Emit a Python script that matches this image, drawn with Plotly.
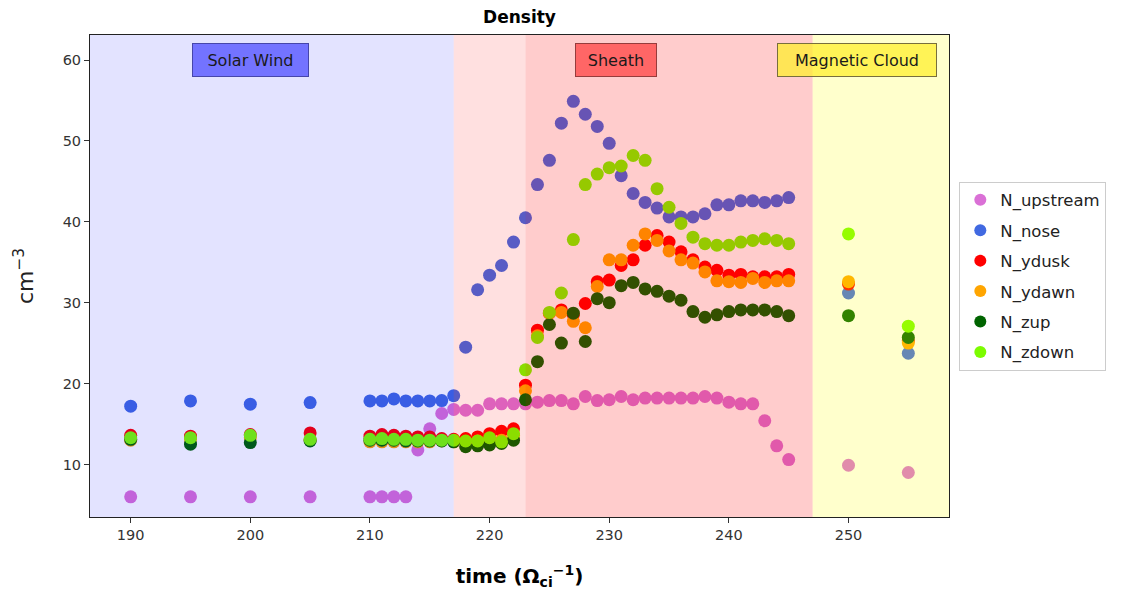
import plotly.graph_objects as go

time = [190, 195, 200, 205, 210, 211, 212, 213, 214, 215, 216, 217, 218, 219, 220,
        221, 222, 223, 224, 225, 226, 227, 228, 229, 230, 231, 232, 233, 234, 235,
        236, 237, 238, 239, 240, 241, 242, 243, 244, 245, 250, 255]

N_upstream = [6.0, 6.0, 6.0, 6.0, 6.0, 6.0, 6.0, 6.0, 11.8, 14.4, 16.3, 16.8, 16.7, 16.7, 17.5,
              17.5, 17.5, 17.5, 17.7, 17.9, 17.9, 17.5, 18.4, 17.9, 18.0, 18.4, 18.0, 18.2, 18.2, 18.2,
              18.2, 18.2, 18.4, 18.2, 17.7, 17.5, 17.5, 15.4, 12.3, 10.6, 9.9, 9.0]
N_nose = [17.2, 17.85, 17.45, 17.65, 17.85, 17.85, 18.1, 17.85, 17.85, 17.85, 17.9, 18.5, 24.5, 31.6, 33.4,
          34.6, 37.5, 40.5, 44.6, 47.6, 52.2, 54.9, 53.3, 51.8, 49.7, 45.7, 43.5, 42.4, 41.7, 40.6,
          40.6, 40.6, 41.0, 42.1, 42.1, 42.6, 42.6, 42.4, 42.6, 43.0, 31.2, 23.75]
N_ydusk = [13.6, 13.5, 13.7, 13.9, 13.5, 13.7, 13.6, 13.5, 13.4, 13.4, 13.2, 13.1, 13.2, 13.4, 13.8,
           14.1, 14.4, 19.8, 26.6, 28.7, 29.1, 28.5, 29.9, 32.6, 32.8, 34.6, 35.3, 37.1, 38.3, 37.5,
           36.3, 35.3, 34.4, 34.0, 33.4, 33.5, 33.2, 33.2, 33.2, 33.5, 32.3, 25.3]
N_ydawn = [13.0, 13.1, 13.3, 13.0, 12.8, 12.8, 12.8, 12.8, 12.8, 12.8, 12.9, 12.8, 12.8, 12.9, 13.0,
           13.0, 13.6, 19.1, 25.9, 28.7, 28.8, 27.7, 26.9, 32.0, 35.3, 35.3, 37.1, 38.5, 37.7, 36.4,
           35.3, 34.9, 33.8, 32.7, 32.6, 32.5, 33.0, 32.5, 32.7, 32.7, 32.6, 25.0]
N_zup = [13.1, 12.5, 12.7, 12.9, 13.0, 13.0, 13.0, 12.9, 12.9, 12.9, 12.9, 12.8, 12.2, 12.3, 12.4,
         12.6, 13.0, 18.0, 22.7, 27.3, 25.0, 28.7, 25.2, 30.5, 30.0, 32.1, 32.5, 31.7, 31.4, 30.8,
         30.3, 28.9, 28.2, 28.5, 28.9, 29.1, 29.1, 29.1, 28.9, 28.4, 28.4, 25.7]
N_zdown = [13.3, 13.3, 13.6, 13.1, 13.1, 13.2, 13.1, 13.1, 13.0, 13.0, 13.0, 13.0, 12.9, 12.9, 13.3,
           12.8, 13.8, 21.7, 25.7, 28.8, 31.2, 37.8, 44.6, 45.9, 46.7, 46.9, 48.2, 47.6, 44.1, 41.8,
           39.8, 38.1, 37.3, 37.1, 37.1, 37.5, 37.7, 37.9, 37.7, 37.3, 38.5, 27.1]

series_names = ["N_upstream", "N_nose", "N_ydusk", "N_ydawn", "N_zup", "N_zdown"]
series_values = [N_upstream, N_nose, N_ydusk, N_ydawn, N_zup, N_zdown]
series_colors = ["orchid", "royalblue", "red", "orange", "darkgreen", "lawngreen"]

region_bounds = [(186.6, 217), (217, 223), (223, 247), (247, 258.4)]
region_fills = ["rgba(0,0,255,0.11)", "rgba(255,0,0,0.12)", "rgba(255,0,0,0.2)", "rgba(255,255,0,0.2)"]

labels = ["Solar Wind", "Sheath", "Magnetic Cloud"]
label_x = [200, 230.6, 250.7]
label_w = [113, 78, 156]
label_bg = ["rgb(115,115,255)", "rgb(255,102,102)", "rgba(255,238,40,0.72)"]
label_border = ["rgb(70,70,170)", "rgb(150,60,60)", "rgb(120,110,60)"]

FONT = "DejaVu Sans"

fig = go.Figure()
for name, vals, col in zip(series_names, series_values, series_colors):
    fig.add_trace(go.Scatter(x=time, y=vals, mode="markers", name=name, legendgroup=name,
                             marker=dict(color=col, size=13, line=dict(width=0))))

for (x0, x1), fc in zip(region_bounds, region_fills):
    fig.add_shape(type="rect", xref="x", yref="paper", x0=x0, x1=x1, y0=0, y1=1,
                  fillcolor=fc, line=dict(width=0), layer="above")

for txt, lx, w, bg, bc in zip(labels, label_x, label_w, label_bg, label_border):
    fig.add_annotation(x=lx, y=60, xref="x", yref="y", text=txt, showarrow=False,
                       font=dict(family=FONT, size=16, color="#1a1a1a"),
                       width=w, height=30, align="center", valign="middle",
                       bgcolor=bg, bordercolor=bc, borderwidth=1, borderpad=1)

fig.update_layout(
    width=1122, height=586,
    margin=dict(l=82, r=181, t=27, b=77),
    paper_bgcolor="white", plot_bgcolor="white",
    font=dict(family=FONT, size=14.5, color="#333"),
    title=dict(text="<b>Density</b>", x=(82 + 941) / 2 / 1122, xanchor="center",
               y=1 - 9 / 586, yanchor="middle", font=dict(size=17, color="black")),
    showlegend=True,
    legend=dict(x=1.012, y=0.5, xanchor="left", yanchor="middle",
                bordercolor="#ccc", borderwidth=1, bgcolor="white", tracegroupgap=6,
                font=dict(size=16.5, color="#222"), itemsizing="constant"),
)
fig.update_xaxes(range=[186.6, 258.4], tickvals=[190, 200, 210, 220, 230, 240, 250],
                 ticks="outside", ticklen=5, tickcolor="#333",
                 showline=True, linecolor="#222", linewidth=1, mirror=True,
                 showgrid=False, zeroline=False,
                 title=dict(text="<b>time (Ω<sub>ci</sub><sup>−1</sup>)</b>",
                            font=dict(size=20, color="black"), standoff=26))
fig.update_yaxes(range=[3.5, 63.1], tickvals=[10, 20, 30, 40, 50, 60],
                 ticks="outside", ticklen=5, tickcolor="#333",
                 showline=True, linecolor="#222", linewidth=1, mirror=True,
                 showgrid=False, zeroline=False,
                 title=dict(text="cm<sup>−3</sup>", font=dict(size=22, color="#222"), standoff=22))

fig.write_html("out.html")
